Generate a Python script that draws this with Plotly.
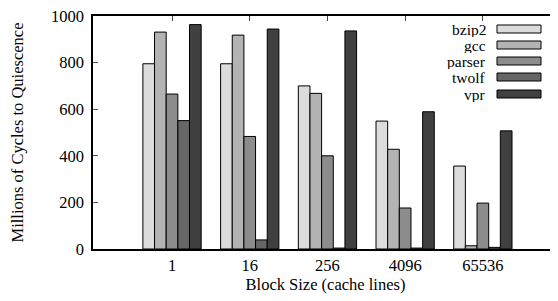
import plotly.graph_objects as go

categories = ["1", "16", "256", "4096", "65536"]
series_names = ["bzip2", "gcc", "parser", "twolf", "vpr"]
bzip2 = [795, 795, 700, 549, 356]
gcc = [931, 918, 668, 428, 14]
parser = [665, 483, 400, 176, 197]
twolf = [551, 39, 4, 4, 7]
vpr = [963, 944, 936, 589, 507]
colors = ["#dcdcdc", "#b3b3b3", "#8c8c8c", "#666666", "#404040"]
y_ticks = [0, 200, 400, 600, 800, 1000]

FONT = "Liberation Serif, Times New Roman, DejaVu Serif, serif"
FS = 16.5
LEG_FS = 15.5
# page body has an 8px margin: figure is placed at (8, 8) on screen
W, H = 550, 293
L, T, B = 85, 8, 52
PW, PH = W - L, H - T - B

fig = go.Figure()
for name, vals, col in zip(series_names, [bzip2, gcc, parser, twolf, vpr], colors):
    fig.add_trace(go.Bar(x=categories, y=vals, name=name, marker=dict(color=col, line=dict(color="#000000", width=1)),
                         showlegend=False))

# invisible trace for right-side ticks
fig.add_trace(go.Scatter(x=[categories[0]], y=[0], yaxis="y2", mode="markers", marker=dict(opacity=0), showlegend=False, hoverinfo="skip"))

fig.update_layout(
    width=W, height=H,
    margin=dict(l=L, r=0, t=T, b=B, autoexpand=False),
    paper_bgcolor="white", plot_bgcolor="white",
    barmode="group", bargap=0.25, bargroupgap=0,
    font=dict(family=FONT, size=FS, color="#000000"),
    xaxis=dict(type="category", range=[-1.017, 4.967], showline=True, linecolor="#000000", linewidth=1.5,
               mirror="ticks", ticks="inside", ticklen=5, tickcolor="#444444", layer="below traces",
               showgrid=False, zeroline=False, automargin=False, ticklabeloverflow="allow",
               title=dict(text="Block Size (cache lines)", standoff=4, font=dict(size=FS))),
    yaxis=dict(range=[0, 1000], tickvals=y_ticks, showline=True, linecolor="#000000", linewidth=1.5,
               ticks="inside", ticklen=5, tickcolor="#555555", showgrid=False, zeroline=False, automargin=False,
               ticklabeloverflow="allow", ticklabelstandoff=4,
               title=dict(text="Millions of Cycles to Quiescence", standoff=31, font=dict(size=FS))),
    yaxis2=dict(range=[0, 1000], tickvals=y_ticks, overlaying="y", side="right", showline=False,
                ticks="inside", ticklen=5, tickcolor="#555555", showticklabels=False, showgrid=False, zeroline=False,
                automargin=False),
)

# manual legend (screen coords of reference): text right-aligned, box to the right
row_y = [29, 45, 61, 77, 94]
def px(xs):
    return (xs - 8 - L) / PW
def py(ys):
    return (T + PH - (ys - 8)) / PH

for name, col, yy in zip(series_names, colors, row_y):
    fig.add_annotation(xref="paper", yref="paper", x=px(487), y=py(yy), text=name, showarrow=False,
                       xanchor="right", yanchor="middle", height=16, borderpad=0,
                       font=dict(family=FONT, size=LEG_FS, color="#000000"))
    fig.add_shape(type="rect", xref="paper", yref="paper",
                  x0=px(497), x1=px(541), y0=py(yy + 4), y1=py(yy - 4),
                  fillcolor=col, line=dict(color="#000000", width=1))

fig.write_html("out.html")
